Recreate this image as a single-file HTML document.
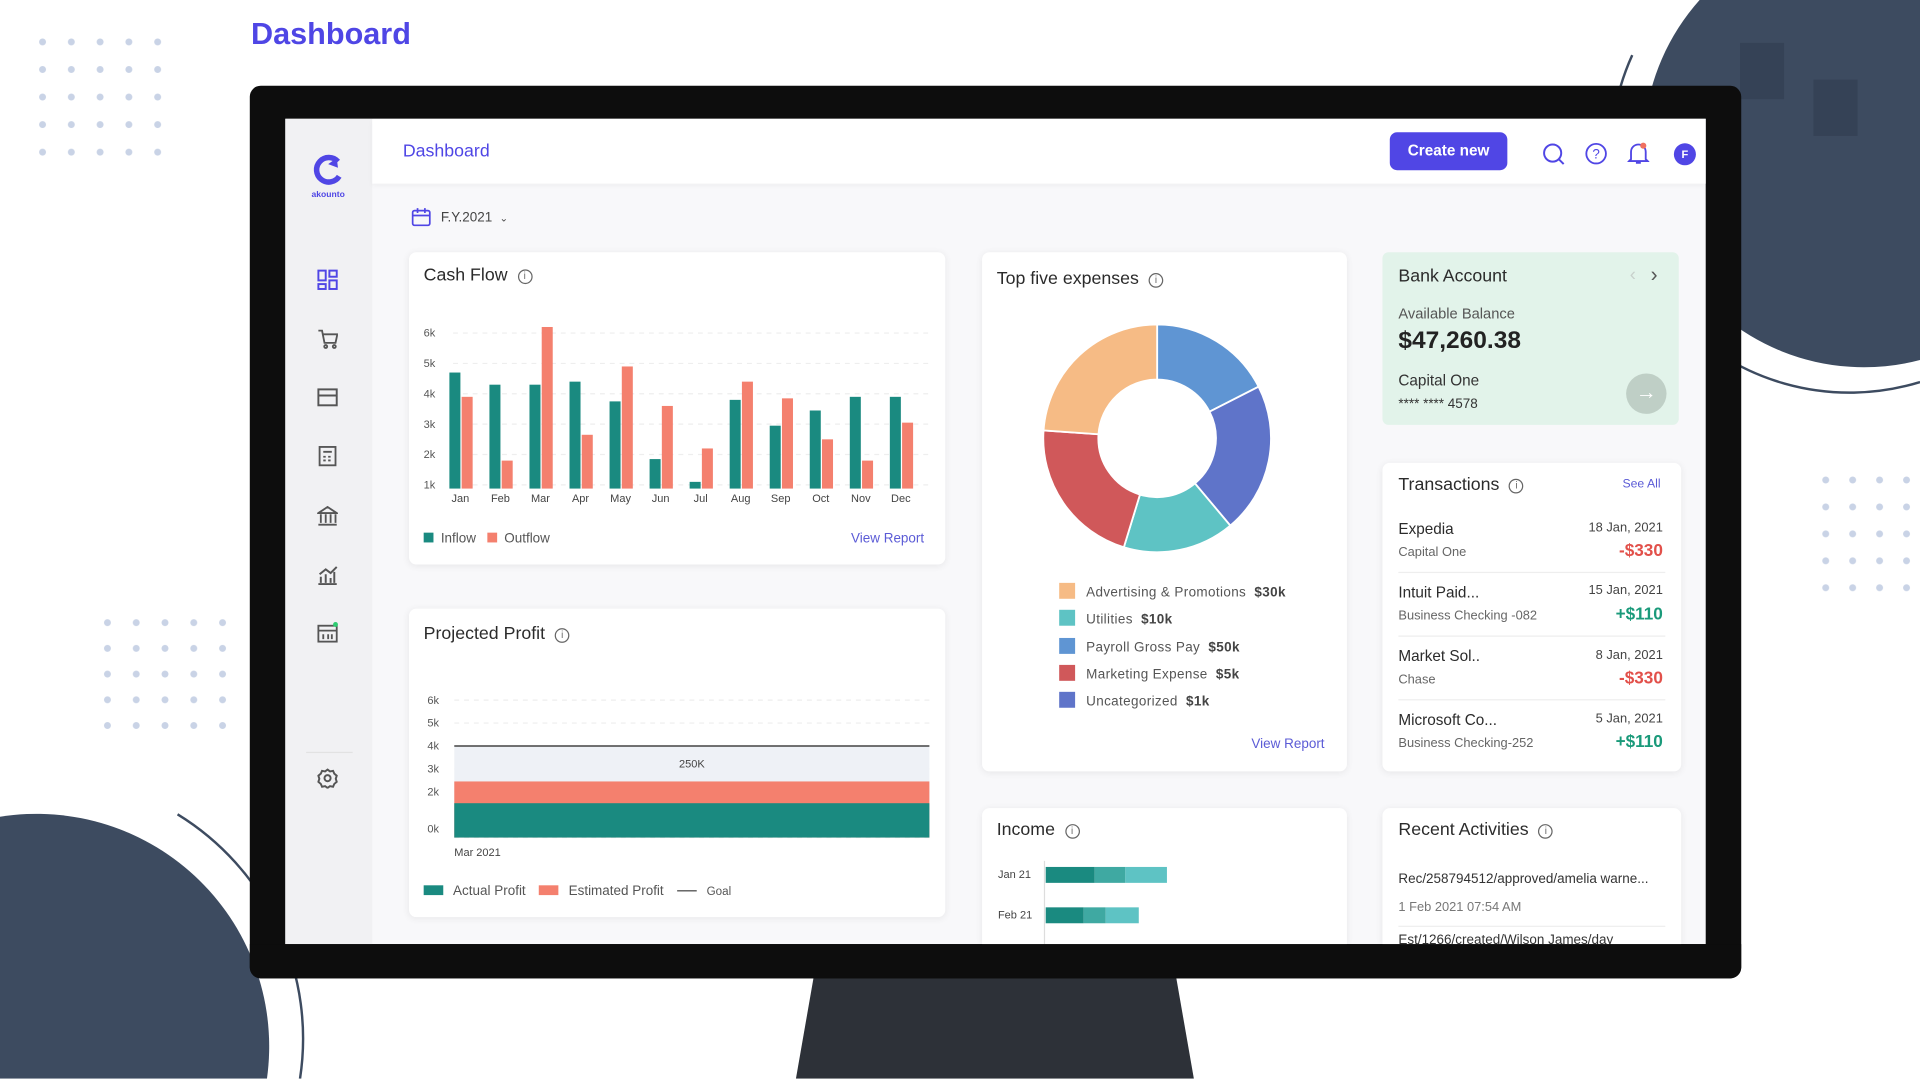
<!DOCTYPE html>
<html><head><meta charset="utf-8">
<style>
html,body{margin:0;padding:0;width:1920px;height:1080px;overflow:hidden;background:#fff;font-family:"Liberation Sans",sans-serif;}
#wrap{position:fixed;left:0;top:0;width:1920px;height:1080px;overflow:hidden;}
#stage{position:absolute;left:0;top:0;width:1568px;height:881px;transform:scale(1.2244898);transform-origin:0 0;overflow:hidden;background:#fff;}
.abs{position:absolute;}
.card{position:absolute;background:#fff;border-radius:6px;box-shadow:0 1px 6px rgba(0,0,0,0.07);}
.title{position:absolute;font-size:14.5px;color:#2b2b2b;}
.info{display:inline-block;width:10px;height:10px;border:1.3px solid #666;border-radius:50%;font-size:8px;line-height:10px;text-align:center;color:#666;margin-left:8px;vertical-align:1px;}
.link{position:absolute;font-size:11px;color:#5b5bd6;}
.sm{font-size:11px;color:#555;}
.dots{position:absolute;background-image:radial-gradient(circle,#c9d3e6 2.6px,transparent 3px);}
.ico{position:absolute;left:259px;width:17px;height:17px;}
.tx-name{position:absolute;left:1142px;font-size:12.5px;color:#2b2b2b;}
.tx-sub{position:absolute;left:1142px;font-size:10.5px;color:#666;}
.tx-date{position:absolute;right:210px;font-size:10.5px;color:#444;}
.tx-amt{position:absolute;right:210px;font-size:14px;font-weight:bold;}
</style></head><body>
<div id="wrap">
<div id="stage">
  <div class="abs" style="left:205px;top:14px;font-size:25px;font-weight:bold;color:#4f46e5;">Dashboard</div>
  <div class="dots" style="left:23px;top:23px;width:115px;height:110px;background-size:23.5px 22.5px;"></div>
  <div class="dots" style="left:76px;top:498px;width:115px;height:105px;background-size:23.5px 21px;"></div>
  <div class="dots" style="left:1480px;top:381px;width:88px;height:105px;background-size:22px 22px;"></div>
  <svg class="abs" style="left:0;top:0" width="1568" height="881">
    <path d="M1388 0 A180 180 0 0 0 1568 294 L1568 0 Z" fill="#3d4b60"/>
    <path d="M1333 45 A195 195 0 0 0 1568 312" fill="none" stroke="#3d4b60" stroke-width="2"/>
    <rect x="1421" y="35" width="36" height="46" fill="#354256"/>
    <rect x="1481" y="65" width="36" height="46" fill="#354256"/>
    <path d="M0 667 A190 190 0 0 1 218 881 L0 881 Z" fill="#3d4b60"/>
    <path d="M145 665 A215 215 0 0 1 245 881" fill="none" stroke="#3d4b60" stroke-width="2"/>
    <polygon points="665,795 960,795 975,881 650,881" fill="#2d3138"/>
  </svg>
  <div class="abs" style="left:204px;top:70px;width:1218px;height:729px;background:#0d0d0d;border-radius:9px;"></div>
  <div class="abs" style="left:233px;top:97px;width:1160px;height:674px;background:#f8f8fa;"></div>
  <div class="abs" style="left:233px;top:97px;width:71px;height:674px;background:#f1f1f3;"></div>
  <div class="abs" style="left:254px;top:126px;width:28px;height:40px;">
    <svg width="28" height="26"><path d="M22 6 A10 10 0 1 0 23 18" stroke="#5046e5" stroke-width="4.5" fill="none"/><path d="M14 8 l7 -5 l1 8z" fill="#5046e5"/></svg>
    <div style="font-size:7px;color:#4f46e5;font-weight:bold;text-align:center;margin-top:-1px;">akounto</div>
  </div>
  <svg class="ico" style="top:220px"><g fill="none" stroke="#5046e5" stroke-width="1.6"><rect x="1" y="1" width="6" height="8"/><rect x="10" y="1" width="6" height="5"/><rect x="1" y="12" width="6" height="4"/><rect x="10" y="9" width="6" height="7"/></g></svg>
  <svg class="ico" style="top:268px"><g fill="none" stroke="#555" stroke-width="1.5"><path d="M1 2h3l2 10h9l1.5-7H5"/><circle cx="7" cy="15" r="1.2"/><circle cx="14" cy="15" r="1.2"/></g></svg>
  <svg class="ico" style="top:316px"><g fill="none" stroke="#555" stroke-width="1.6"><rect x="1" y="2" width="15" height="13"/><path d="M1 7h15"/></g></svg>
  <svg class="ico" style="top:364px"><g fill="none" stroke="#555" stroke-width="1.5"><rect x="2" y="1" width="13" height="15"/><path d="M5 5h7M5 9h2M9 9h2M5 12h2M9 12h2"/></g></svg>
  <svg class="ico" style="top:413px"><g fill="none" stroke="#555" stroke-width="1.5"><path d="M1 6L8.5 1L16 6zM3 7v7M7 7v7M11 7v7M15 7v7M1 15.5h15"/></g></svg>
  <svg class="ico" style="top:461px"><g fill="none" stroke="#555" stroke-width="1.6"><path d="M1 16h15M3 15v-5M7 15v-7M11 15v-4M14 15v-9M2 8l5-4 4 3 5-5"/></g></svg>
  <svg class="ico" style="top:508px"><g fill="none" stroke="#555" stroke-width="1.5"><rect x="1" y="3" width="15" height="13"/><path d="M1 7h15M5 10v4M9 10v4M12 10v4"/></g><circle cx="15" cy="2" r="2" fill="#2ecc71"/></svg>
  <div class="abs" style="left:250px;top:614px;width:38px;height:1px;background:#e2e2e2;"></div>
  <svg class="ico" style="top:627px"><g fill="none" stroke="#555" stroke-width="1.6"><circle cx="8.5" cy="8.5" r="2.5"/><path d="M8.5 1.5l2 1.5 2.5-.5 1 2.3 2 1.7-.8 2.5.8 2.5-2 1.7-1 2.3-2.5-.5-2 1.5-2-1.5-2.5.5-1-2.3-2-1.7.8-2.5-.8-2.5 2-1.7 1-2.3 2.5.5z"/></g></svg>

  <div class="abs" style="left:304px;top:97px;width:1089px;height:53px;background:#fff;box-shadow:0 2px 4px rgba(0,0,0,0.04);"></div>
  <div class="abs" style="left:329px;top:116px;font-size:14.5px;color:#4f46e5;">Dashboard</div>
  <div class="abs" style="left:1135px;top:108px;width:96px;height:31px;border-radius:6px;background:#5046e5;color:#fff;font-size:12.5px;font-weight:bold;text-align:center;line-height:31px;">Create new</div>
  <svg class="abs" style="left:1259px;top:116px" width="20" height="20"><circle cx="9" cy="9" r="7" fill="none" stroke="#5046e5" stroke-width="1.6"/><path d="M14 14l4 4" stroke="#5046e5" stroke-width="1.6"/></svg>
  <svg class="abs" style="left:1294px;top:116px" width="20" height="20"><circle cx="9.5" cy="9.5" r="8" fill="none" stroke="#5046e5" stroke-width="1.5"/><text x="9.5" y="13.5" font-size="11" text-anchor="middle" fill="#5046e5" font-family="Liberation Sans">?</text></svg>
  <svg class="abs" style="left:1329px;top:115px" width="18" height="20"><path d="M3 15V9a6 6 0 0 1 12 0v6l1.5 1.5h-15zM7 18h4" fill="none" stroke="#5046e5" stroke-width="1.5"/><circle cx="13" cy="4" r="2.5" fill="#f07060"/></svg>
  <div class="abs" style="left:1367px;top:117px;width:18px;height:18px;border-radius:50%;background:#5046e5;color:#fff;font-size:9px;font-weight:bold;text-align:center;line-height:18px;">F</div>

  <div class="abs" style="left:336px;top:169px;font-size:11px;color:#444;">
    <svg width="16" height="16" style="vertical-align:-4px;margin-right:8px"><rect x="1" y="3" width="14" height="12" rx="1.5" fill="none" stroke="#5046e5" stroke-width="1.4"/><path d="M1 7h14M5 1v4M11 1v4" stroke="#5046e5" stroke-width="1.4"/></svg>F.Y.2021 <span style="font-size:8px;margin-left:3px">&#8964;</span>
  </div>

  <div class="card" style="left:334px;top:206px;width:438px;height:255px;"></div>
  <div class="title" style="left:346px;top:217px;">Cash Flow<span class="info">i</span></div>
  <svg id="cf" class="abs" style="left:334px;top:206px" width="438" height="255"></svg>
  <div class="abs sm" style="left:346px;top:434px;">
    <span style="display:inline-block;width:8px;height:8px;background:#1a8a80;margin-right:6px"></span>Inflow
    <span style="display:inline-block;width:8px;height:8px;background:#f4806e;margin:0 6px 0 6px"></span>Outflow
  </div>
  <div class="link" style="left:695px;top:434px;">View Report</div>

  <div class="card" style="left:334px;top:497px;width:438px;height:252px;"></div>
  <div class="title" style="left:346px;top:510px;">Projected Profit<span class="info">i</span></div>
  <svg id="pp" class="abs" style="left:334px;top:497px" width="438" height="252"></svg>
  <div class="abs sm" style="left:346px;top:722px;">
    <span style="display:inline-block;width:16px;height:8px;background:#1a8a80;margin-right:8px"></span>Actual Profit
    <span style="display:inline-block;width:16px;height:8px;background:#f4806e;margin:0 8px 0 8px"></span>Estimated Profit
    <span style="display:inline-block;width:16px;height:1px;background:#444;margin:0 8px 3px 8px"></span><span style="font-size:9.5px">Goal</span>
  </div>

  <div class="card" style="left:802px;top:206px;width:298px;height:424px;"></div>
  <div class="title" style="left:814px;top:220px;">Top five expenses<span class="info">i</span></div>
  <svg id="donut" class="abs" style="left:845px;top:258px" width="200" height="200"></svg>
  <div id="exlegend" class="abs" style="left:865px;top:476px;font-size:11px;color:#555;letter-spacing:0.3px;"></div>
  <div class="link" style="left:1022px;top:602px;">View Report</div>

  <div class="card" style="left:802px;top:660px;width:298px;height:111px;border-radius:6px 6px 0 0;"></div>
  <div class="title" style="left:814px;top:670px;">Income<span class="info">i</span></div>
  <svg id="inc" class="abs" style="left:802px;top:695px" width="298" height="76"></svg>

  <div class="abs" style="left:1129px;top:206px;width:242px;height:141px;background:#e2f3ea;border-radius:5px;"></div>
  <div class="title" style="left:1142px;top:218px;">Bank Account</div>
  <div class="abs" style="left:1331px;top:216px;font-size:15px;color:#c8d0cc;">&#8249;</div>
  <div class="abs" style="left:1348px;top:215px;font-size:17px;color:#555;">&#8250;</div>
  <div class="abs" style="left:1142px;top:249px;font-size:12px;color:#555;">Available Balance</div>
  <div class="abs" style="left:1142px;top:267px;font-size:20px;font-weight:bold;color:#222;">$47,260.38</div>
  <div class="abs" style="left:1142px;top:304px;font-size:12.5px;color:#333;">Capital One</div>
  <div class="abs" style="left:1142px;top:324px;font-size:11px;color:#333;">**** **** 4578</div>
  <div class="abs" style="left:1328px;top:305px;width:33px;height:33px;border-radius:50%;background:#bfcfc6;color:#fff;font-size:17px;text-align:center;line-height:32px;">&#8594;</div>

  <div class="card" style="left:1129px;top:378px;width:244px;height:252px;"></div>
  <div class="title" style="left:1142px;top:388px;">Transactions<span class="info">i</span></div>
  <div class="link" style="left:1325px;top:390px;font-size:10px;">See All</div>
  <div class="tx-name" style="top:425px">Expedia</div>
  <div class="tx-sub" style="top:445px">Capital One</div>
  <div class="tx-date" style="top:425px">18 Jan, 2021</div>
  <div class="tx-amt" style="top:441px;color:#e2504a">-$330</div>
  <div class="abs" style="left:1142px;top:467px;width:218px;height:1px;background:#eee"></div>
  <div class="tx-name" style="top:477px">Intuit Paid...</div>
  <div class="tx-sub" style="top:497px">Business Checking -082</div>
  <div class="tx-date" style="top:476px">15 Jan, 2021</div>
  <div class="tx-amt" style="top:493px;color:#1a9a7a">+$110</div>
  <div class="abs" style="left:1142px;top:519px;width:218px;height:1px;background:#eee"></div>
  <div class="tx-name" style="top:529px">Market Sol..</div>
  <div class="tx-sub" style="top:549px">Chase</div>
  <div class="tx-date" style="top:529px">8 Jan, 2021</div>
  <div class="tx-amt" style="top:545px;color:#e2504a">-$330</div>
  <div class="abs" style="left:1142px;top:571px;width:218px;height:1px;background:#eee"></div>
  <div class="tx-name" style="top:581px">Microsoft Co...</div>
  <div class="tx-sub" style="top:601px">Business Checking-252</div>
  <div class="tx-date" style="top:581px">5 Jan, 2021</div>
  <div class="tx-amt" style="top:597px;color:#1a9a7a">+$110</div>

  <div class="card" style="left:1129px;top:660px;width:244px;height:111px;border-radius:6px 6px 0 0;"></div>
  <div class="title" style="left:1142px;top:670px;">Recent Activities<span class="info">i</span></div>
  <div class="abs" style="left:1142px;top:712px;font-size:11px;color:#333;">Rec/258794512/approved/amelia warne...</div>
  <div class="abs" style="left:1142px;top:735px;font-size:10.5px;color:#777;">1 Feb 2021 07:54 AM</div>
  <div class="abs" style="left:1142px;top:756px;width:218px;height:1px;background:#eee"></div>
  <div class="abs" style="left:1142px;top:762px;font-size:11px;color:#333;">Est/1266/created/Wilson James/day</div>

  <div class="abs" style="left:204px;top:771px;width:1218px;height:28px;background:#0d0d0d;border-radius:0 0 9px 9px;"></div>
</div>
</div>

<script>
var NS='http://www.w3.org/2000/svg';
function mk(p,tag,attrs){var e=document.createElementNS(NS,tag);for(var k in attrs)e.setAttribute(k,attrs[k]);p.appendChild(e);return e;}

var cfMonths=['Jan','Feb','Mar','Apr','May','Jun','Jul','Aug','Sep','Oct','Nov','Dec'];
var cfInflow=[4.7,4.3,4.3,4.4,3.75,1.85,1.1,3.8,2.95,3.45,3.9,3.9];
var cfOutflow=[3.9,1.8,6.2,2.65,4.9,3.6,2.2,4.4,3.85,2.5,1.8,3.05];
var cfTicks=[1,2,3,4,5,6];
(function(){
  var s=document.getElementById('cf');
  function y(v){return 190-(v-1)*24.8;}
  var x0=32,step=32.7;
  cfTicks.forEach(function(t){
    var l=mk(s,'line',{x1:36,x2:428,y1:y(t),y2:y(t),stroke:'#eee','stroke-dasharray':'4 4'});
    
    
    var tx=mk(s,'text',{x:12,y:y(t)+3,'font-size':9,fill:'#555','font-family':'Liberation Sans'});
    tx.textContent=t+'k';
    
    
  });
  var base=193;
  cfMonths.forEach(function(m,i){
    var cx=x0+8+i*step;
    var b1=mk(s,'rect',{x:cx-7,y:y(cfInflow[i]),width:9,height:base-y(cfInflow[i]),fill:'#1a8a80'});
    
    
    var b2=mk(s,'rect',{x:cx+3,y:y(cfOutflow[i]),width:9,height:base-y(cfOutflow[i]),fill:'#f4806e'});
    
    
    var t=mk(s,'text',{x:cx+2,y:204,'font-size':9,fill:'#444','text-anchor':'middle','font-family':'Liberation Sans'});
    t.textContent=m;
    
    
  });
})();

var ppTicks=[0,2,3,4,5,6];
var ppCategory='Mar 2021';
var ppActual=[1.5];
var ppEstimated=[2.45];
var ppGoal=[4];
var ppGoalLabel='250K';
(function(){
  var s=document.getElementById('pp');
  function y(v){return 187-v*18.7;}
  ppTicks.forEach(function(t){
    var ty=t===0?180:y(t);
    var l=mk(s,'line',{x1:37,x2:425,y1:y(t),y2:y(t),stroke:'#eee','stroke-dasharray':'4 4'});
    
    
    var tx=mk(s,'text',{x:15,y:ty+3,'font-size':9,fill:'#555','font-family':'Liberation Sans'});
    tx.textContent=t+'k';
    
    
  });
  var bg=mk(s,'rect',{x:37,y:y(ppGoal[0]),width:388,height:187-y(ppGoal[0]),fill:'#eef1f6'});
  
  
  var e=mk(s,'rect',{x:37,y:y(ppEstimated[0]),width:388,height:187-y(ppEstimated[0]),fill:'#f4806e'});
  
  
  var a=mk(s,'rect',{x:37,y:y(ppActual[0]),width:388,height:187-y(ppActual[0]),fill:'#1a8a80'});
  
  
  var g=mk(s,'line',{x1:37,x2:425,y1:y(ppGoal[0]),y2:y(ppGoal[0]),stroke:'#444','stroke-width':1.2});
  
  
  var gl=mk(s,'text',{x:231,y:(y(ppGoal[0])+y(ppEstimated[0]))/2+3,'font-size':9,fill:'#444','text-anchor':'middle','font-family':'Liberation Sans'});
  gl.textContent=ppGoalLabel;
  
  
  var c=mk(s,'text',{x:37,y:202,'font-size':9,fill:'#444','font-family':'Liberation Sans'});
  c.textContent=ppCategory;
  
  
})();

var exLabels=['Payroll Gross Pay','Uncategorized','Utilities','Marketing Expense','Advertising & Promotions'];
var exShares=[63,77,57,77,86];
var exColors=['#5f95d3','#5f74c9','#5ec3c4','#d0585a','#f6bb85'];
var legLabels=['Advertising & Promotions','Utilities','Payroll Gross Pay','Marketing Expense','Uncategorized'];
var legValues=['$30k','$10k','$50k','$5k','$1k'];
var legColors=['#f6bb85','#5ec3c4','#5f95d3','#d0585a','#5f74c9'];
(function(){
  var s=document.getElementById('donut');
  var cx=100,cy=100,R=93,r=48;
  var total=exShares.reduce(function(a,b){return a+b;},0);
  var a0=0;
  exShares.forEach(function(v,i){
    var a1=a0+v/total*360;
    function pt(rad,a){var t=(a-90)*Math.PI/180;return [cx+rad*Math.cos(t),cy+rad*Math.sin(t)];}
    var p1=pt(R,a0),p2=pt(R,a1),p3=pt(r,a1),p4=pt(r,a0);
    var lg=(a1-a0)>180?1:0;
    var d='M'+p1+' A'+R+' '+R+' 0 '+lg+' 1 '+p2+' L'+p3+' A'+r+' '+r+' 0 '+lg+' 0 '+p4+'Z';
    var p=mk(s,'path',{d:d,fill:exColors[i],stroke:'#fff','stroke-width':1.5});
    
    
    a0=a1;
  });
  var L=document.getElementById('exlegend');
  legLabels.forEach(function(l,i){
    var d=document.createElement('div');
    d.style.height='22.3px';
    d.innerHTML='<span style="display:inline-block;width:13px;height:13px;background:'+legColors[i]+';vertical-align:-2px;margin-right:9px"></span>'+l+'&nbsp; <b style="color:#444">'+legValues[i]+'</b>';
    
    
    L.appendChild(d);
  });
})();

var incCats=['Jan 21','Feb 21'];
var incSeg1=[40,31];
var incSeg2=[25,18];
var incSeg3=[34,27];
(function(){
  var s=document.getElementById('inc');
  var x0=51,sc=1;
  var ax=mk(s,'line',{x1:x0,x2:x0,y1:8,y2:76,stroke:'#ddd'});
  
  
  incCats.forEach(function(c,i){
    var yy=19+i*33;
    var t=mk(s,'text',{x:13,y:yy+3,'font-size':9,fill:'#444','font-family':'Liberation Sans'});
    t.textContent=c;
    
    
    var x=x0+1;
    [[incSeg1,'#1a8a80'],[incSeg2,'#3fa9a2'],[incSeg3,'#5ec3c4']].forEach(function(sg){
      var r=mk(s,'rect',{x:x,y:yy-6,width:sg[0][i]*sc,height:13,fill:sg[1]});
      
      
      x+=sg[0][i]*sc;
    });
  });
})();
</script>
</body></html>
